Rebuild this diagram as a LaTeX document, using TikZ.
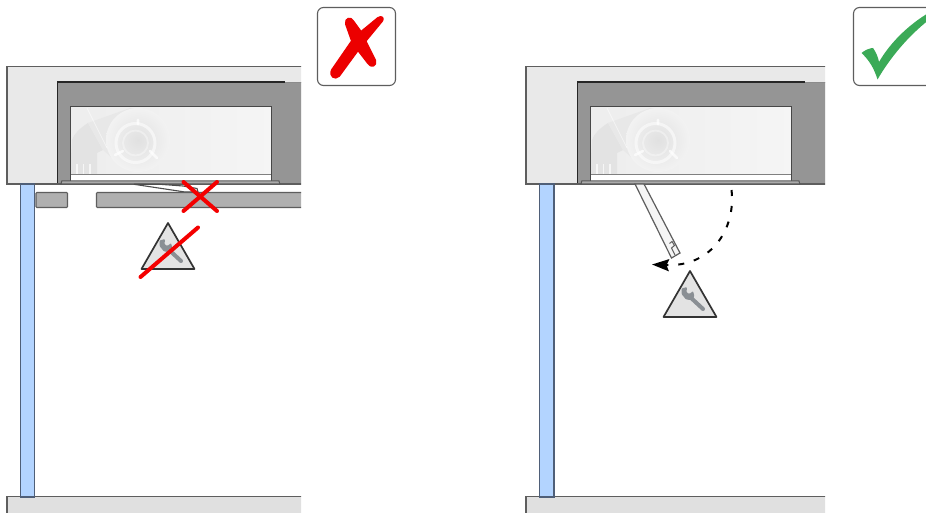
\documentclass[tikz,border=0pt]{standalone}
\usetikzlibrary{arrows.meta}
\definecolor{edgegrey}{HTML}{5E5E5E}
\definecolor{housing}{HTML}{E9E9E9}
\definecolor{cavity}{HTML}{959595}
\definecolor{glass}{HTML}{B3D4FF}
\definecolor{floorfill}{HTML}{E0E0E0}
\definecolor{barfill}{HTML}{B0B0B0}
\definecolor{platefill}{HTML}{ABABAB}
\definecolor{crossred}{HTML}{F40000}
\definecolor{badred}{HTML}{EC0000}
\definecolor{goodgreen}{HTML}{3BAA57}
\definecolor{wrenchgrey}{HTML}{8A8F94}
\definecolor{glassedge}{HTML}{4F5F78}
\tikzset{
  x=1pt,y=-1pt,
  shell/.style={fill=housing,draw=edgegrey,line width=1.1pt},
  cavitybox/.style={fill=cavity,draw=none},
  windowbox/.style={draw=black!72,line width=.9pt},
  plate/.style={fill=platefill,draw=black!65,line width=1pt},
  glasspane/.style={fill=glass,draw=glassedge,line width=1.3pt},
  floorslab/.style={fill=floorfill,draw=edgegrey,line width=1.1pt},
  barbox/.style={fill=barfill,draw=edgegrey,line width=1.1pt,rounded corners=.8pt},
  redline/.style={draw=crossred,line width=4pt,line cap=round},
  iconbox/.style={fill=white,draw=edgegrey,line width=1.1pt,rounded corners=6pt},
  warntri/.style={fill=black!11,draw=black!80,line width=1.7pt,line join=round},
  wrenchline/.style={draw=wrenchgrey,line width=4pt,line cap=round},
  pathdash/.style={draw=black,line width=2pt,dash pattern=on 6pt off 10pt},
}
\newcommand{\fanart}{%
  \fill[black!11] (70,174) -- (72,140) .. controls (74,134) and (80,128) .. (88,123)
     -- (103,150) -- (97,153) -- (97,174) -- cycle;
  \fill[black!9] (88,123) -- (130,108) -- (150,112) -- (140,172) -- (120,165) -- (103,150) -- cycle;
  \shade[inner color=black!12,middle color=black!11,outer color=black!5] (138,140) circle (32);
  \draw[white,opacity=.55,line width=3pt] (135.5,143) circle (19.5);
  \draw[white,opacity=.35,line width=1.8pt] (135.5,143) circle (12.5);
  \draw[white,opacity=.7,line width=2.6pt,line cap=round] (138,124) -- (138,120)
     (123,151) -- (115,155) (150,151) -- (157,158);
  \draw[white,opacity=.5,line width=.8pt] (87,108) -- (107,148);
  \draw[white,opacity=.7,line width=1.5pt] (77,174) -- (77,164) (83.5,174) -- (83.5,164) (90,174) -- (90,164);
}
\newcommand{\warnsign}[2]{%
  \begin{scope}[shift={(#1,#2)}]
    \draw[warntri] (0,0) -- (26.5,46) -- (-26.5,46) -- cycle;
    \draw[wrenchline] (-1,25) -- (13,38);
    \fill[wrenchgrey,rounded corners=1pt] (-3,16) -- (-8.5,17.5) -- (-8.5,23) -- (-4,28.5) -- (1,29)
       -- (4.5,25.5) -- (3,20) -- (-0.5,23) -- (-3.5,21.5) -- cycle;
  \end{scope}}
% #1 = x of housing left edge, #2 = x shift of inner parts, #3 = x of clipping edge
\newcommand{\panel}[3]{%
  \begin{scope}
    \clip (#1-1,60) rectangle (#3,513);
    \draw[shell] (#1,66.5) rectangle (#3+5,184);
    \begin{scope}[shift={(#2,0)}]
      \fill[cavitybox] (57.5,82) rectangle (310,183.5);
      \draw[black!85,line width=1.3pt] (57.5,183.5) -- (57.5,82) -- (285,82);
      \draw[black!45,line width=.8pt] (285,82.6) -- (310,82.6);
      \fill[left color=black!7,right color=black!4] (70,106.5) rectangle (271,174);
      \begin{scope}
        \clip (70,106.5) rectangle (271,174);
        \fanart
      \end{scope}
      \fill[white] (70,174.5) rectangle (271,181);
      \draw[black!50,line width=1pt] (70,174.5) -- (271,174.5);
      \draw[windowbox] (70,181) -- (70,106.5) -- (271,106.5) -- (271,181);
      \draw[plate] (61,184) -- (61.8,181) -- (279,181) -- (279.8,184) -- cycle;
    \end{scope}
    \draw[floorslab] (#1,496.5) rectangle (#3+5,520);
  \end{scope}
}
\begin{document}
\begin{tikzpicture}
\useasboundingbox (0,0) rectangle (926,513);
\fill[white] (0,0) rectangle (926,513);

% left panel
\panel{7}{0}{301}
\draw[fill=white,draw=black!70,line width=1.1pt] (134,184.3) -- (185,192) -- (198,192) -- (197,188.5) -- (183,186) -- (160,184.3) -- cycle;
\begin{scope}
  \clip (0,180) rectangle (301,215);
  \draw[barbox] (36,192.5) rectangle (67.5,207.5);
  \draw[barbox] (96.5,192.5) rectangle (310,207.5);
\end{scope}
\draw[glasspane] (20.7,184) rectangle (34.7,497);
\draw[redline] (183.5,182) -- (217,211);
\draw[redline] (217,182) -- (183.5,211);
\warnsign{168}{223}
\draw[redline] (140.5,277) -- (198,227.5);

% right panel
\panel{526}{520}{825}
\draw[fill=black!4,draw=edgegrey,line width=1.2pt] (635,184) -- (644,184) -- (680,253) -- (671.5,258) -- cycle;
\draw[draw=edgegrey,line width=1pt] (669.5,243.5) -- (672,241.5) -- (674.5,245.5) -- (671.5,248) -- (675,255);
\draw[glasspane] (539.7,184) rectangle (554,497);
\draw[pathdash,-{Stealth[length=17pt,width=12pt,inset=2.5pt]}]
   (731.5,190) .. controls (736,228) and (712,267) .. (652,264.5);
\warnsign{690}{271}

% icons
\draw[iconbox] (317.5,7.5) rectangle (395.5,85.5);
\fill[badred,draw=badred,line width=2pt,line join=round]
  (346,24) .. controls (345,18) and (351,17) .. (353,21)
  -- (361,32) -- (378,18) .. controls (382,15.5) and (384,18.5) .. (382,21)
  -- (365.5,41) -- (375,60) .. controls (377,66) and (371,68) .. (368,63)
  -- (358,50) -- (339,76) .. controls (335,80) and (329,76) .. (332,70)
  -- (352,41) -- cycle;
\begin{scope}
  \clip (840,0) rectangle (926,100);
  \draw[iconbox] (853.5,7.5) rectangle (960,85.5);
  \fill[goodgreen] (861.5,53) .. controls (865,50) and (870,48) .. (873,48)
    .. controls (876,52) and (878,57) .. (879,62)
    .. controls (890,43) and (908,25) .. (930,12)
    -- (930,19) .. controls (908,36) and (890,58) .. (877.5,79.5)
    .. controls (874,68) and (869,60) .. (861.5,53) -- cycle;
\end{scope}
\end{tikzpicture}
\end{document}
